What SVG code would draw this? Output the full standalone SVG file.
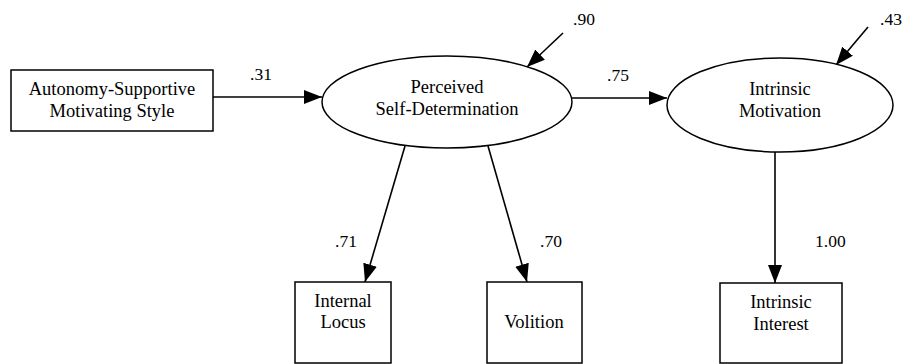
<svg xmlns="http://www.w3.org/2000/svg" width="905" height="364" viewBox="0 0 905 364">
  <style>
    .node { fill: #fff; stroke: #000; stroke-width: 1.5; }
    .t { font-family: 'Liberation Serif', 'DejaVu Serif', serif; font-size: 18.5px; fill: #000; text-anchor: middle; }
    .lbl { font-family: 'Liberation Serif', 'DejaVu Serif', serif; font-size: 17.5px; fill: #000; }
    .edge { stroke: #000; stroke-width: 1.6; fill: none; marker-end: url(#arr); }
  </style>
  <defs>
    <marker id="arr" markerUnits="userSpaceOnUse" markerWidth="19" markerHeight="15" refX="18" refY="7" orient="auto">
      <path d="M0,0 L18,7 L0,14 z" fill="#000"/>
    </marker>
  </defs>
  <rect width="905" height="364" fill="#fff"/>

  <g id="connectors">
    <line class="edge" x1="213" y1="97" x2="322" y2="97"/>
    <line class="edge" x1="572" y1="98" x2="667" y2="98"/>
    <line class="edge" x1="563" y1="33" x2="527" y2="67"/>
    <line class="edge" x1="868" y1="27" x2="836" y2="65"/>
    <line class="edge" x1="405" y1="146" x2="365" y2="282"/>
    <line class="edge" x1="488" y1="146" x2="527" y2="282"/>
    <line class="edge" x1="775" y1="152" x2="775" y2="283"/>
    <text class="lbl" x="250" y="80">.31</text>
    <text class="lbl" x="573" y="25">.90</text>
    <text class="lbl" x="607" y="81">.75</text>
    <text class="lbl" x="880" y="25">.43</text>
    <text class="lbl" x="335" y="247">.71</text>
    <text class="lbl" x="540" y="247">.70</text>
    <text class="lbl" x="815" y="247">1.00</text>
  </g>

  <g id="autonomy">
    <rect class="node" x="11" y="70" width="202" height="61"/>
    <text class="t" x="112" y="95">Autonomy-Supportive</text>
    <text class="t" x="112" y="117">Motivating Style</text>
  </g>
  <g id="perceived">
    <ellipse class="node" cx="447" cy="102" rx="125" ry="46"/>
    <text class="t" x="447" y="93">Perceived</text>
    <text class="t" x="447" y="115">Self-Determination</text>
  </g>
  <g id="intrinsic-motivation">
    <ellipse class="node" cx="780" cy="105" rx="113" ry="47"/>
    <text class="t" x="780" y="95">Intrinsic</text>
    <text class="t" x="780" y="117">Motivation</text>
  </g>
  <g id="internal-locus">
    <rect class="node" x="295" y="282" width="96" height="81"/>
    <text class="t" x="343" y="307">Internal</text>
    <text class="t" x="343" y="328">Locus</text>
  </g>
  <g id="volition">
    <rect class="node" x="487" y="282" width="95" height="81"/>
    <text class="t" x="534" y="328">Volition</text>
  </g>
  <g id="intrinsic-interest">
    <rect class="node" x="720" y="283" width="122" height="80"/>
    <text class="t" x="781" y="308">Intrinsic</text>
    <text class="t" x="781" y="330">Interest</text>
  </g>
</svg>
